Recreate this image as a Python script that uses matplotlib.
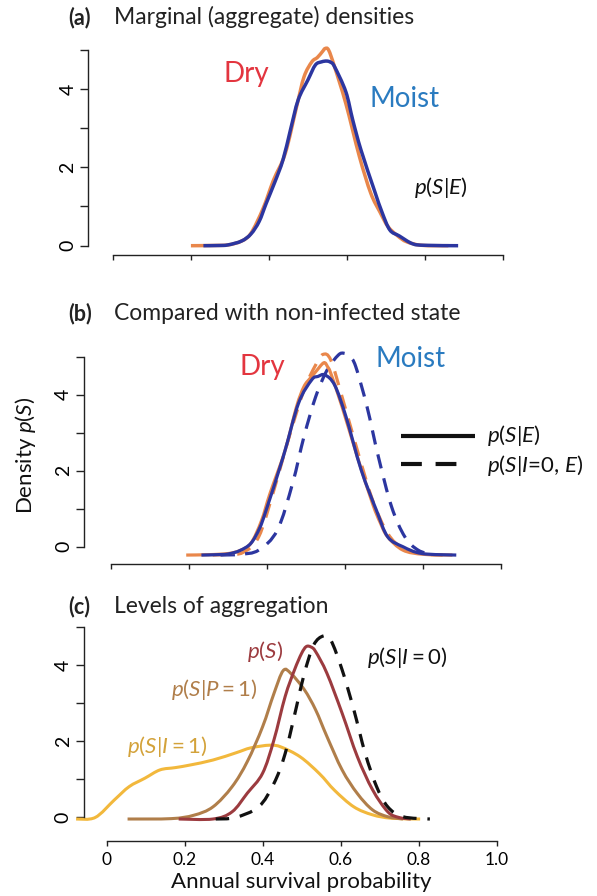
import numpy as np
import matplotlib.pyplot as plt
from matplotlib.path import Path
from matplotlib.patches import PathPatch

plt.rcParams['font.family'] = ['Lato', 'DejaVu Sans']
plt.rcParams['mathtext.fontset'] = 'custom'
plt.rcParams['mathtext.rm'] = 'Lato'
plt.rcParams['mathtext.it'] = 'Lato:italic'
plt.rcParams['mathtext.bf'] = 'Lato:bold'

# ---- datos (densidad relativa a la linea base de cada curva) ----
# (a) densidades marginales
a_dry_x = [0.200, 0.250, 0.295, 0.330, 0.354, 0.385, 0.412, 0.442, 0.471, 0.490, 0.510, 0.524, 0.537,
           0.544, 0.553, 0.568, 0.597, 0.632, 0.661, 0.685, 0.705, 0.730, 0.753, 0.792, 0.860]
a_dry_y = [0, 0.005, 0.02, 0.12, 0.32, 0.95, 1.68, 2.36, 3.55, 4.31, 4.69, 4.80, 4.95,
           5.03, 4.99, 4.57, 3.63, 2.27, 1.34, 0.85, 0.49, 0.25, 0.10, 0.01, 0.0]
a_moist_x = [0.232, 0.270, 0.295, 0.330, 0.354, 0.375, 0.393, 0.415, 0.436, 0.455, 0.475, 0.500, 0.519, 0.535,
             0.548, 0.558, 0.568, 0.597, 0.615, 0.636, 0.670, 0.690, 0.710, 0.734, 0.768, 0.800, 0.885]
a_moist_y = [0, 0.005, 0.02, 0.12, 0.30, 0.62, 1.08, 1.62, 2.19, 2.95, 3.72, 4.23, 4.61, 4.69,
             4.71, 4.68, 4.57, 3.93, 3.20, 2.44, 1.42, 0.85, 0.40, 0.25, 0.05, 0.01, 0.0]

# (b) comparado con estado no infectado
b_dry_x = [0.192, 0.250, 0.300, 0.330, 0.358, 0.385, 0.407, 0.446, 0.475, 0.494, 0.510, 0.524, 0.545,
           0.555, 0.563, 0.592, 0.631, 0.670, 0.690, 0.709, 0.748, 0.800, 0.875]
b_dry_y = [0, 0.01, 0.04, 0.12, 0.31, 0.90, 1.62, 2.76, 3.90, 4.43, 4.65, 4.82, 5.06,
           4.95, 4.78, 3.90, 2.59, 1.36, 0.85, 0.48, 0.13, 0.02, 0.0]
b_moist_x = [0.231, 0.270, 0.300, 0.330, 0.358, 0.380, 0.397, 0.441, 0.480, 0.514, 0.530, 0.548, 0.573,
             0.602, 0.641, 0.680, 0.709, 0.748, 0.797, 0.885]
b_moist_y = [0, 0.01, 0.03, 0.12, 0.31, 0.70, 1.18, 2.59, 3.99, 4.61, 4.70, 4.74, 4.47,
             3.64, 2.24, 1.18, 0.48, 0.22, 0.04, 0.0]
b_dry0_x = [0.260, 0.300, 0.338, 0.378, 0.417, 0.456, 0.494, 0.524, 0.543, 0.563, 0.592, 0.631, 0.670,
            0.709, 0.748, 0.800, 0.850]
b_dry0_y = [0, 0.02, 0.07, 0.48, 1.71, 3.11, 4.34, 5.00, 5.28, 5.13, 4.16, 2.76, 1.45,
            0.57, 0.18, 0.03, 0.0]
b_moist0_x = [0.280, 0.330, 0.378, 0.426, 0.465, 0.494, 0.524, 0.553, 0.582, 0.597, 0.612, 0.627, 0.656,
              0.685, 0.719, 0.753, 0.787, 0.826]
b_moist0_y = [0, 0.02, 0.13, 0.66, 1.89, 3.11, 4.16, 4.86, 5.26, 5.31, 5.22, 4.96, 3.90,
              2.59, 1.27, 0.48, 0.13, 0.0]

# (c) niveles de agregacion
c_i1_x = [-0.078, -0.029, 0.020, 0.058, 0.098, 0.137, 0.176, 0.215, 0.273, 0.332, 0.370, 0.419, 0.448,
          0.497, 0.546, 0.585, 0.634, 0.682, 0.731, 0.804]
c_i1_y = [0, 0.04, 0.50, 0.85, 1.07, 1.29, 1.35, 1.42, 1.55, 1.74, 1.87, 1.94, 1.89,
          1.63, 1.19, 0.75, 0.32, 0.11, 0.02, 0.0]
c_p1_x = [0.054, 0.166, 0.224, 0.273, 0.322, 0.361, 0.400, 0.429, 0.453, 0.473, 0.507, 0.536, 0.565,
          0.604, 0.643, 0.682, 0.721, 0.760]
c_p1_y = [0, 0.01, 0.10, 0.32, 0.85, 1.51, 2.42, 3.29, 3.90, 3.82, 3.40, 2.87, 2.17,
          1.29, 0.67, 0.24, 0.06, 0.0]
c_all_x = [0.185, 0.273, 0.322, 0.361, 0.400, 0.429, 0.458, 0.482, 0.500, 0.512, 0.524, 0.536, 0.565,
           0.604, 0.643, 0.682, 0.721, 0.750, 0.780]
c_all_y = [0, 0.0, 0.19, 0.68, 1.20, 2.07, 3.22, 3.92, 4.35, 4.53, 4.52, 4.40, 3.83,
           2.78, 1.64, 0.77, 0.19, 0.04, 0.0]
c_i0_x = [0.280, 0.330, 0.390, 0.429, 0.458, 0.487, 0.507, 0.531, 0.556, 0.575, 0.604, 0.634, 0.663,
          0.692, 0.721, 0.760, 0.829]
c_i0_y = [0, 0.04, 0.32, 0.93, 1.72, 2.95, 3.82, 4.57, 4.81, 4.70, 3.92, 2.87, 1.73,
          0.86, 0.32, 0.06, 0.0]

x_ticks = [0, 0.2, 0.4, 0.6, 0.8, 1.0]
x_ticklabels = ['0', '0.2', '0.4', '0.6', '0.8', '1.0']
y_ticks = [0, 1, 2, 3, 4, 5]
y_ticklabels = ['0', '', '2', '', '4', '']

# colores
ORANGE = '#E9874B'
BLUE = '#2C36A0'
DRY_TXT = '#E3353F'
MOIST_TXT = '#2A7BC0'
RED = '#9C3B3F'
BROWN = '#B07E4A'
GOLD = '#F2B83C'
GOLD_TXT = '#D3A23A'
AXC = '#222222'

W, H = 597, 896
fig = plt.figure(figsize=(W / 100, H / 100), dpi=100)


def fx(px):
    return px / W


def fy(py):
    return 1 - py / H


def make_panel(x0, x1, y0, y5, yaxis_px, xaxis_px, show_xlabels=False):
    # x0/x1: pixel de x=0 y x=1 ; y0/y5: pixel de y=0 y y=5
    sx = x1 - x0
    sy = (y0 - y5) / 5
    xlo, xhi, ylo, yhi = -0.25, 1.2, -1.0, 5.4
    left, right = x0 + xlo * sx, x0 + xhi * sx
    top, bottom = y0 - yhi * sy, y0 - ylo * sy
    ax = fig.add_axes([fx(left), fy(bottom), (right - left) / W, (bottom - top) / H])
    ax.set_xlim(xlo, xhi)
    ax.set_ylim(ylo, yhi)
    ax.patch.set_visible(False)
    for s in ['top', 'right']:
        ax.spines[s].set_visible(False)
    ax.spines['left'].set_position(('data', (yaxis_px - x0) / sx))
    ax.spines['left'].set_bounds(0, 5)
    ax.spines['bottom'].set_position(('data', (y0 - xaxis_px) / sy))
    ax.spines['bottom'].set_bounds(0, 1)
    for s in ['left', 'bottom']:
        ax.spines[s].set_linewidth(1.0)
        ax.spines[s].set_color(AXC)
    ax.set_xticks(x_ticks)
    ax.set_xticklabels(x_ticklabels if show_xlabels else [''] * len(x_ticks))
    ax.set_yticks(y_ticks)
    ax.set_yticklabels(y_ticklabels, rotation=90, va='center')
    ax.tick_params(axis='x', length=3.6, width=1.0, color=AXC, labelsize=12.5, pad=4)
    ax.tick_params(axis='y', length=5.5, width=1.0, color=AXC, labelsize=14, pad=3)
    return ax


def curve(ax, xs, ys, shift, color, lw, dashes=None, z=2):
    # trazo suave (Bezier tipo Catmull-Rom) que pasa por los puntos leidos
    p = np.column_stack([xs, np.array(ys) + shift])
    n = len(p)
    verts = [p[0]]
    codes = [Path.MOVETO]
    for i in range(n - 1):
        pa = p[i - 1] if i > 0 else p[i]
        pd = p[i + 2] if i + 2 < n else p[i + 1]
        verts += [p[i] + (p[i + 1] - pa) / 6, p[i + 1] - (pd - p[i]) / 6, p[i + 1]]
        codes += [Path.CURVE4] * 3
    ls = '-' if dashes is None else (0, dashes)
    patch = PathPatch(Path(verts, codes), facecolor='none', edgecolor=color, lw=lw, linestyle=ls,
                      capstyle='butt', joinstyle='round', clip_on=False, zorder=z)
    ax.add_patch(patch)
    return patch


def title(px_label, px_text, py, label, text):
    fig.text(fx(px_label), fy(py), label, fontsize=15.5, fontweight='bold', ha='left', va='baseline', color='#222222')
    fig.text(fx(px_text), fy(py), text, fontsize=16.5, ha='left', va='baseline', color='#222222')


# ---- panel (a) ----
ax_a = make_panel(112.9, 503.0, 245.7, 49.7, 88.2, 255.3)
curve(ax_a, a_dry_x, a_dry_y, 0.0, ORANGE, 2.5)
curve(ax_a, a_moist_x, a_moist_y, 0.0, BLUE, 2.5, z=3)
title(68, 114, 24.5, '(a)', 'Marginal (aggregate) densities')
fig.text(fx(224), fy(81.7), 'Dry', fontsize=20, color=DRY_TXT, ha='left', va='baseline')
fig.text(fx(369), fy(107.3), 'Moist', fontsize=20, color=MOIST_TXT, ha='left', va='baseline')
fig.text(fx(414), fy(188), r'$p(S|E)$', fontsize=16, color='#111111', ha='left', va='center')

# ---- panel (b) ----
ax_b = make_panel(111.4, 501.1, 546.7, 356.7, 84.0, 564.0)
base_b = -0.22
curve(ax_b, b_dry0_x, b_dry0_y, base_b, ORANGE, 2.3, dashes=(4.5, 3.2))
curve(ax_b, b_moist0_x, b_moist0_y, base_b, BLUE, 2.3, dashes=(4.5, 3.2))
curve(ax_b, b_dry_x, b_dry_y, base_b, ORANGE, 2.3, z=3)
curve(ax_b, b_moist_x, b_moist_y, base_b, BLUE, 2.3, z=4)
title(68, 114, 320, '(b)', 'Compared with non-infected state')
fig.text(fx(240), fy(375), 'Dry', fontsize=20, color=DRY_TXT, ha='left', va='baseline')
fig.text(fx(376), fy(367.3), 'Moist', fontsize=20, color=MOIST_TXT, ha='left', va='baseline')
# leyenda dibujada a mano (solida y discontinua)
leg = fig.add_axes([0, 0, 1, 1])
leg.set_xlim(0, W)
leg.set_ylim(H, 0)
leg.axis('off')
leg.plot([401, 475], [435.7, 435.7], color='#111111', lw=3.0, solid_capstyle='butt')
lnd, = leg.plot([401, 467], [463.7, 463.7], color='#111111', lw=3.0)
lnd.set_dashes((5, 3.3))
lnd.set_dash_capstyle('butt')
fig.text(fx(487), fy(435.7), r'$p(S|E)$', fontsize=16, color='#111111', ha='left', va='center')
fig.text(fx(487), fy(465), r'$p(S|I$=0, $E)$', fontsize=16, color='#111111', ha='left', va='center')
fig.text(fx(26), fy(455), r'Density $p(S)$', fontsize=16, rotation=90, ha='center', va='center', color='#111111')

# ---- panel (c) ----
ax_c = make_panel(106.5, 496.6, 817.3, 627.0, 83.5, 841.0, show_xlabels=True)
base_c = -0.045
curve(ax_c, c_i1_x, c_i1_y, base_c, GOLD, 2.2, z=2)
curve(ax_c, c_p1_x, c_p1_y, base_c, BROWN, 2.2, z=3)
curve(ax_c, c_all_x, c_all_y, base_c, RED, 2.2, z=4)
curve(ax_c, c_i0_x, c_i0_y, base_c, '#111111', 2.3, dashes=(4.2, 3.4), z=5)
title(68, 114, 613, '(c)', 'Levels of aggregation')
fig.text(fx(247), fy(652), r'$p(S)$', fontsize=16, color=RED, ha='left', va='center')
fig.text(fx(367), fy(657.5), r'$p(S|I=0)$', fontsize=16, color='#111111', ha='left', va='center')
fig.text(fx(171), fy(689), r'$p(S|P=1)$', fontsize=16, color=BROWN, ha='left', va='center')
fig.text(fx(127), fy(746), r'$p(S|I=1)$', fontsize=16, color=GOLD_TXT, ha='left', va='center')
fig.text(fx(301.5), fy(888), 'Annual survival probability', fontsize=16, ha='center', va='baseline', color='#111111')

fig.savefig('out.png', dpi=100)
